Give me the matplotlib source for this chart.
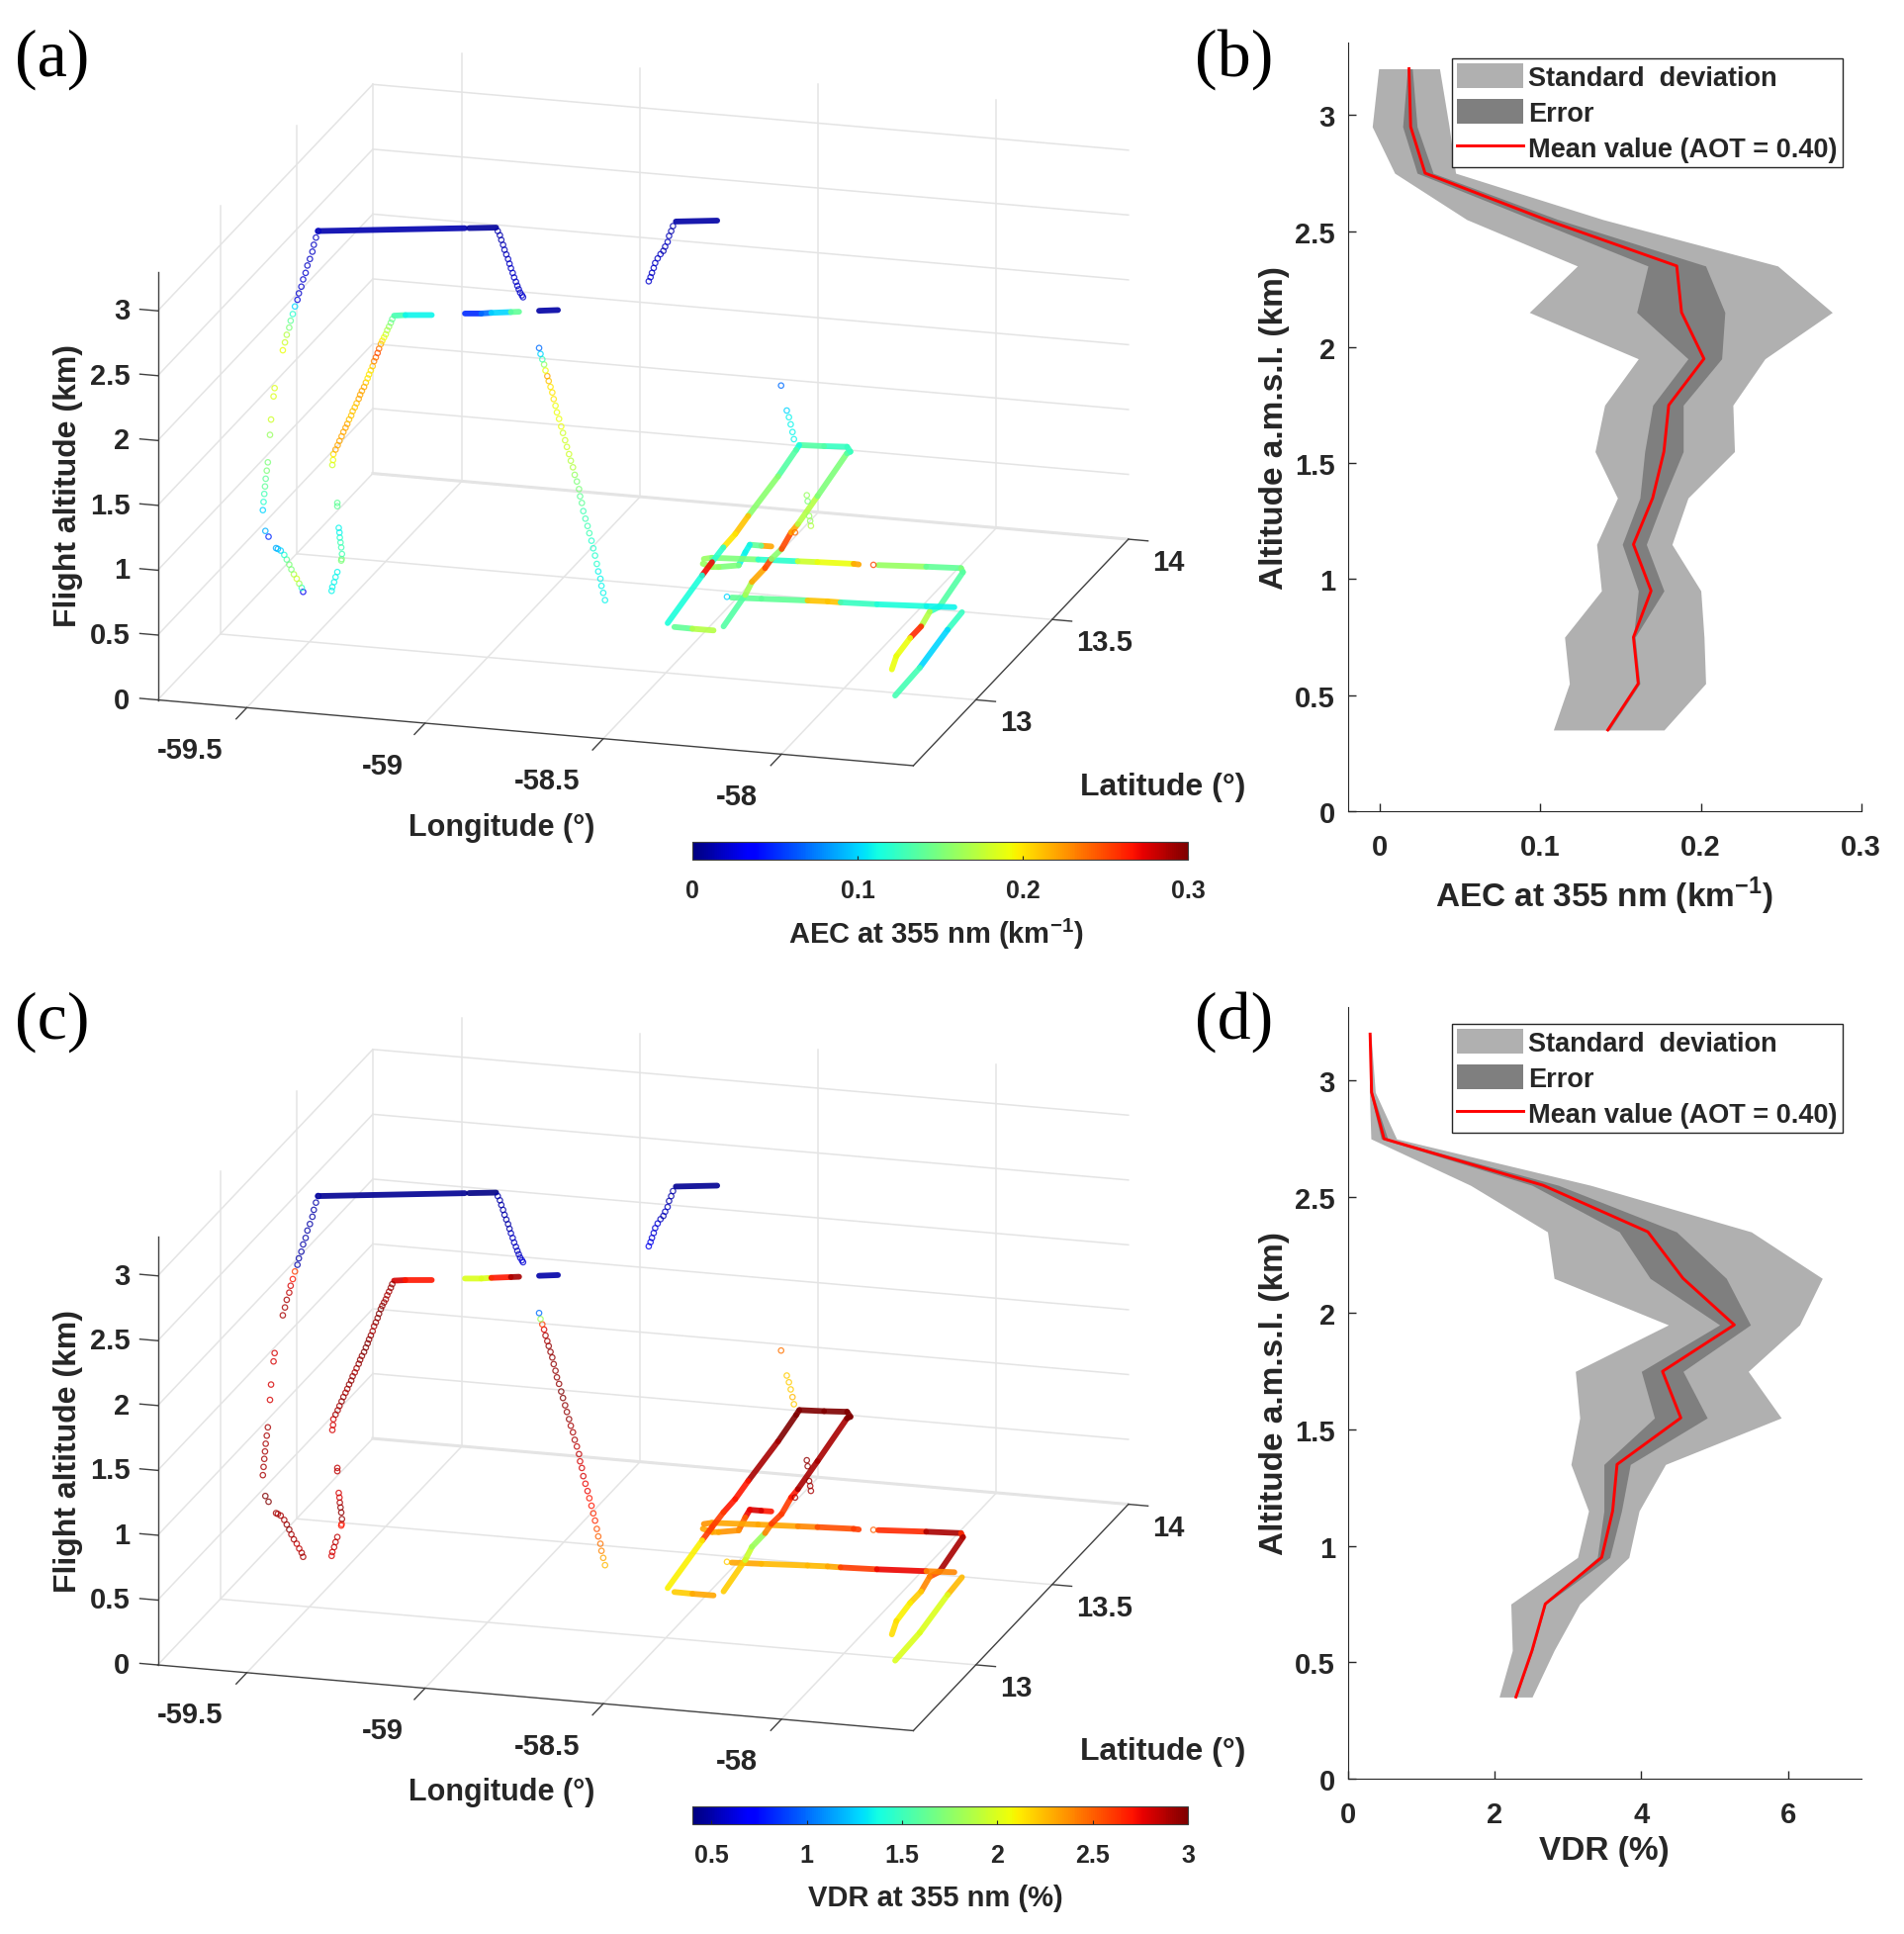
"""
Flight-track curtains of AEC and VDR at 355 nm with their mean vertical profiles.
"""

import matplotlib
matplotlib.use("Agg")
import matplotlib.pyplot as plt
import numpy as np
from matplotlib.cm import ScalarMappable
from matplotlib.colors import Normalize
from matplotlib.lines import Line2D
from matplotlib.patches import Patch
from mpl_toolkits.mplot3d import proj3d

W, H = 1925, 1956
DARK = "#262626"
GRID = "#e4e4e4"

LON_RANGE = (-59.75, -57.63)
LAT_RANGE = (12.59, 14.0)
ALT_RANGE = (0.0, 3.3)
lon_ticks = [-59.5, -59.0, -58.5, -58.0]
lat_ticks = [13.0, 13.5, 14.0]
alt_ticks = [0, 0.5, 1, 1.5, 2, 2.5, 3]
lon_labels = ["-59.5", "-59", "-58.5", "-58"]
lat_labels = ["13", "13.5", "14"]
alt_labels = ["0", "0.5", "1", "1.5", "2", "2.5", "3"]
# the longitude labels do not sit evenly along the axis in the original
lon_label_nudge = [-0.019, 0.019, -0.019, 0.013]

# sparse parts of the track, drawn as separate open circles
leg_a_lat = 12.98
leg_a_lon = [-59.467, -59.473, -59.479, -59.483, -59.490, -59.497, -59.502, -59.509, -59.514, -59.521, -59.525,
             -59.532, -59.538, -59.544, -59.548, -59.555, -59.560, -59.566, -59.589, -59.592, -59.599, -59.602,
             -59.608, -59.611, -59.614, -59.616, -59.618, -59.620, -59.622, -59.615, -59.606, -59.585, -59.580,
             -59.572, -59.562, -59.555, -59.548, -59.542, -59.535, -59.527, -59.520, -59.513, -59.509]
leg_a_alt = [3.20, 3.148, 3.091, 3.037, 2.979, 2.927, 2.869, 2.817, 2.76, 2.707, 2.656,
             2.603, 2.543, 2.49, 2.436, 2.379, 2.319, 2.257, 1.96, 1.895, 1.715, 1.596,
             1.383, 1.318, 1.255, 1.195, 1.137, 1.075, 1.011, 0.852, 0.81, 0.727, 0.722,
             0.711, 0.68, 0.646, 0.609, 0.573, 0.537, 0.505, 0.469, 0.438, 0.408]
leg_a_aec = [0.018, 0.018, 0.018, 0.018, 0.018, 0.018, 0.02, 0.02, 0.02, 0.02, 0.025,
             0.1, 0.12, 0.14, 0.15, 0.17, 0.18, 0.19, 0.185, 0.185, 0.18, 0.16,
             0.15, 0.15, 0.14, 0.14, 0.13, 0.12, 0.1, 0.09, 0.05, 0.09, 0.09,
             0.1, 0.12, 0.14, 0.15, 0.15, 0.17, 0.18, 0.16, 0.12, 0.03]
leg_a_vdr = [0.5, 0.5, 0.5, 0.5, 0.5, 0.5, 0.5, 0.5, 0.5, 0.5, 0.5,
             2.6, 2.7, 2.8, 2.85, 2.9, 2.9, 2.9, 2.8, 2.8, 2.8, 2.8,
             2.9, 2.9, 2.9, 2.9, 2.9, 2.9, 2.9, 3.0, 3.0, 2.9, 2.9,
             2.9, 2.9, 2.95, 2.95, 2.9, 2.9, 2.85, 2.85, 2.9, 2.9]

leg_b_lat = 12.80
leg_b_lon = [-59.182, -59.186, -59.191, -59.196, -59.200, -59.205, -59.210, -59.214, -59.219, -59.223,
             -59.228, -59.233, -59.237, -59.242, -59.247, -59.251, -59.256, -59.261, -59.267, -59.272,
             -59.276, -59.282, -59.287, -59.293, -59.297, -59.303, -59.308, -59.313, -59.319, -59.324,
             -59.330, -59.335, -59.341, -59.347, -59.348, -59.350,
             -59.336, -59.336, -59.332, -59.330, -59.329, -59.327, -59.325, -59.323, -59.324, -59.325,
             -59.336, -59.341, -59.345, -59.350, -59.352]
leg_b_alt = [2.812, 2.783, 2.752, 2.723, 2.691, 2.665, 2.638, 2.612, 2.575, 2.541,
             2.506, 2.475, 2.436, 2.402, 2.37, 2.339, 2.305, 2.27, 2.238, 2.207,
             2.175, 2.139, 2.106, 2.075, 2.041, 2.009, 1.974, 1.943, 1.909, 1.874,
             1.837, 1.803, 1.768, 1.731, 1.686, 1.647,
             1.358, 1.333, 1.166, 1.131, 1.092, 1.055, 1.017, 0.967, 0.928, 0.916,
             0.825, 0.785, 0.745, 0.706, 0.676]
leg_b_aec = [0.14, 0.15, 0.16, 0.17, 0.18, 0.19, 0.2, 0.22, 0.24, 0.25,
             0.24, 0.23, 0.21, 0.2, 0.2, 0.2, 0.21, 0.22, 0.22, 0.22,
             0.22, 0.21, 0.21, 0.21, 0.21, 0.21, 0.22, 0.22, 0.22, 0.22,
             0.22, 0.22, 0.22, 0.2, 0.19, 0.18,
             0.14, 0.14, 0.11, 0.11, 0.12, 0.13, 0.13, 0.13, 0.15, 0.15,
             0.11, 0.11, 0.11, 0.11, 0.11]
leg_b_vdr = [2.95, 2.95, 2.9, 2.9, 2.9, 2.95, 2.95, 3.0, 3.0, 2.95,
             2.95, 2.9, 2.9, 2.95, 2.95, 3.0, 3.0, 3.0, 2.95, 2.95,
             2.95, 2.9, 2.9, 2.95, 2.95, 2.95, 2.9, 2.9, 2.95, 2.95,
             2.9, 2.9, 2.9, 2.8, 2.8, 2.8,
             2.85, 2.85, 2.8, 2.8, 2.9, 2.95, 2.95, 2.95, 2.7, 2.7,
             2.85, 2.85, 2.85, 2.8, 2.8]

leg_c_lat = 13.09
leg_c_lon = [-58.894, -58.890, -58.885, -58.880, -58.876, -58.871, -58.867, -58.862, -58.857, -58.853,
             -58.848, -58.844, -58.838, -58.832, -58.827, -58.821, -58.816, -58.810, -58.805, -58.799,
             -58.794, -58.788, -58.782, -58.779, -58.774, -58.770, -58.764, -58.758, -58.753, -58.747,
             -58.742, -58.737, -58.732, -58.728, -58.722, -58.719, -58.714, -58.709]
leg_c_alt = [2.299, 2.254, 2.214, 2.175, 2.13, 2.088, 2.051, 2.007, 1.965, 1.915,
             1.865, 1.815, 1.766, 1.709, 1.66, 1.605, 1.555, 1.501, 1.451, 1.402,
             1.345, 1.295, 1.238, 1.183, 1.133, 1.071, 1.014, 0.959, 0.905, 0.848,
             0.791, 0.736, 0.673, 0.616, 0.561, 0.507, 0.454, 0.399]
leg_c_aec = [0.07, 0.1, 0.13, 0.16, 0.19, 0.22, 0.21, 0.2, 0.2, 0.2,
             0.19, 0.19, 0.19, 0.19, 0.18, 0.18, 0.18, 0.18, 0.17, 0.17,
             0.16, 0.15, 0.15, 0.14, 0.14, 0.13, 0.13, 0.13, 0.13, 0.12,
             0.12, 0.12, 0.12, 0.11, 0.11, 0.11, 0.11, 0.11]
leg_c_vdr = [1.0, 1.8, 2.6, 2.8, 2.9, 2.9, 2.95, 2.95, 2.95, 2.95,
             2.95, 2.95, 2.95, 3.0, 3.0, 2.95, 2.95, 2.95, 2.9, 2.9,
             2.9, 2.85, 2.85, 2.8, 2.8, 2.8, 2.75, 2.75, 2.7, 2.7,
             2.65, 2.65, 2.55, 2.5, 2.45, 2.4, 2.3, 2.25]

leg_d_lat = 13.09
leg_d_lon = [-59.010, -59.004, -59.000, -58.995, -58.991, -58.986, -58.981, -58.977, -58.973, -58.968,
             -58.964, -58.959, -58.955, -58.951, -58.947, -58.942, -58.939]
leg_d_alt = [3.173, 3.142, 3.107, 3.07, 3.033, 2.998, 2.964, 2.929, 2.895, 2.86,
             2.826, 2.794, 2.764, 2.738, 2.713, 2.694, 2.68]
leg_d_aec = [0.012, 0.012, 0.012, 0.015, 0.015, 0.015, 0.018, 0.018, 0.018, 0.018,
             0.018, 0.018, 0.018, 0.018, 0.02, 0.02, 0.02]
leg_d_vdr = [0.5, 0.5, 0.5, 0.5, 0.5, 0.5, 0.5, 0.5, 0.55, 0.55,
             0.55, 0.55, 0.55, 0.55, 0.6, 0.6, 0.6]

leg_e_lat = 13.199
leg_e_lon = [-58.565, -58.570, -58.576, -58.580, -58.587, -58.592, -58.600, -58.608, -58.615, -58.619,
             -58.624, -58.628, -58.633]
leg_e_alt = [3.183, 3.143, 3.104, 3.057, 3.019, 2.985, 2.958, 2.923, 2.886, 2.847, 2.808, 2.774, 2.741]
leg_e_aec = [0.012, 0.012, 0.015, 0.018, 0.015, 0.012, 0.018, 0.018, 0.018, 0.018, 0.018, 0.02, 0.02]
leg_e_vdr = [0.5, 0.5, 0.5, 0.55, 0.55, 0.5, 0.55, 0.6, 0.6, 0.6, 0.6, 0.65, 0.65]

leg_g_lat = 13.95
leg_g_lon = [-58.583, -58.567, -58.561, -58.556, -58.551, -58.547]
leg_g_alt = [1.019, 0.83, 0.78, 0.726, 0.668, 0.614]
leg_g_aec = [0.07, 0.1, 0.11, 0.11, 0.11, 0.11]
leg_g_vdr = [2.45, 2.2, 2.2, 2.2, 2.25, 2.2]

leg_h_alt = 0.5
leg_h_lon = [-58.412, -58.395, -58.355, -58.340, -58.326, -58.351, -58.068, -58.369]
leg_h_lat = [13.719, 13.685, 13.601, 13.573, 13.545, 13.499, 13.352, 13.095]
leg_h_aec = [0.16, 0.15, 0.16, 0.16, 0.17, 0.24, 0.25, 0.1]
leg_h_vdr = [2.95, 2.95, 2.95, 2.9, 2.9, 2.9, 2.5, 2.2]

# dense parts of the track, where the circles merge into a solid band
top1_lon = [-59.467, -59.094]
top1_lat = [12.98, 13.07]
top1_aec = [0.012, 0.012]
top1_vdr = [0.45, 0.45]
top2_lon = [-59.083, -59.014]
top2_lat = [13.0725, 13.089]
top2_aec = [0.008, 0.008]
top2_vdr = [0.42, 0.42]
top3_lon = [-58.557, -58.452]
top3_lat = [13.199, 13.225]
top3_aec = [0.01, 0.01]
top3_vdr = [0.45, 0.45]
mid1_lon = [-59.177, -59.145, -59.071]
mid1_alt = [2.84, 2.852, 2.87]
mid1_aec = [0.13, 0.11, 0.09]
mid1_vdr = [2.8, 2.7, 2.3]
mid2_lon = [-58.978, -58.932, -58.904, -58.849, -58.826]
mid2_alt = [2.904, 2.915, 2.927, 2.946, 2.954]
mid2_aec = [0.05, 0.07, 0.1, 0.14, 0.1]
mid2_vdr = [2.0, 2.0, 2.7, 2.9, 2.85]
mid3_lon = [-58.770, -58.717]
mid3_alt = [2.975, 2.993]
mid3_aec = [0.01, 0.01]
mid3_vdr = [0.5, 0.5]

loop_lon = [-58.305, -58.326, -58.341, -58.341, -58.347, -58.345, -58.361, -58.364, -58.382, -58.411, -58.406,
            -58.427, -58.488, -58.555, -58.551, -58.533, -58.513, -58.502, -58.500, -58.493, -58.486, -58.458]
loop_lat = [12.923, 13.114, 13.193, 13.279, 13.335, 13.397, 13.497, 13.548, 13.719, 13.980, 13.991,
            14.018, 14.010, 14.004, 13.974, 13.813, 13.571, 13.460, 13.378, 13.287, 13.206, 12.914]
loop_aec = [0.135, 0.165, 0.22, 0.25, 0.155, 0.25, 0.22, 0.17, 0.15, 0.135, 0.125,
            0.125, 0.135, 0.115, 0.135, 0.155, 0.21, 0.2, 0.12, 0.27, 0.115, 0.12]
loop_vdr = [2.2, 1.95, 1.8, 2.4, 2.6, 2.6, 2.7, 2.9, 2.9, 3.0, 3.0,
            3.0, 3.0, 3.0, 3.0, 2.9, 2.7, 2.7, 2.6, 2.6, 2.1, 2.0]
base_lon = [-58.431, -58.380, -58.321]
base_lat = [12.895, 12.894, 12.895]
base_aec = [0.14, 0.17, 0.19]
base_vdr = [2.2, 2.3, 2.1]
run1_lon = [-58.522, -58.504, -58.380, -58.273, -58.220, -58.122, -58.107]
run1_lat = [13.301, 13.312, 13.325, 13.335, 13.340, 13.348, 13.347]
run1_aec = [0.16, 0.15, 0.12, 0.18, 0.19, 0.22, 0.26]
run1_vdr = [2.35, 2.3, 2.3, 2.4, 2.55, 2.6, 2.4]
run2_lon = [-58.055, -57.927, -57.833, -57.818, -57.794, -57.807, -57.793, -57.793, -57.784, -57.763]
run2_lat = [13.353, 13.368, 13.377, 13.355, 13.144, 13.111, 13.022, 12.950, 12.839, 12.760]
run2_aec = [0.16, 0.14, 0.15, 0.135, 0.125, 0.17, 0.26, 0.19, 0.19, 0.13]
run2_vdr = [2.65, 2.9, 2.65, 2.9, 2.55, 2.4, 2.2, 2.1, 2.15, 1.95]
run3_lon = [-58.355, -58.275, -58.151, -58.097, -58.061, -57.962, -57.829, -57.754]
run3_lat = [13.093, 13.101, 13.114, 13.119, 13.120, 13.127, 13.141, 13.149]
run3_aec = [0.14, 0.14, 0.21, 0.21, 0.125, 0.115, 0.11, 0.11]
run3_vdr = [2.3, 2.25, 2.25, 2.3, 2.6, 2.75, 2.4, 2.25]
run4_lon = [-57.722, -57.716, -57.695, -57.690]
run4_lat = [13.124, 13.016, 12.784, 12.611]
run4_aec = [0.125, 0.1, 0.13, 0.12]
run4_vdr = [2.25, 2.0, 2.0, 1.95]
turn_lon = [-58.378, -58.406, -58.438, -58.431, -58.416, -58.464, -58.481, -58.513]
turn_lat = [13.407, 13.406, 13.406, 13.360, 13.282, 13.262, 13.259, 13.273]
turn_aec = [0.22, 0.14, 0.11, 0.11, 0.15, 0.16, 0.16, 0.16]
turn_vdr = [2.7, 2.8, 2.75, 2.5, 2.35, 2.3, 2.3, 2.4]

ring_legs = [
    (leg_a_lon, leg_a_lat, leg_a_alt, leg_a_aec, leg_a_vdr),
    (leg_b_lon, leg_b_lat, leg_b_alt, leg_b_aec, leg_b_vdr),
    (leg_c_lon, leg_c_lat, leg_c_alt, leg_c_aec, leg_c_vdr),
    (leg_d_lon, leg_d_lat, leg_d_alt, leg_d_aec, leg_d_vdr),
    (leg_e_lon, leg_e_lat, leg_e_alt, leg_e_aec, leg_e_vdr),
    (leg_g_lon, leg_g_lat, leg_g_alt, leg_g_aec, leg_g_vdr),
    (leg_h_lon, leg_h_lat, leg_h_alt, leg_h_aec, leg_h_vdr),
]
band_legs = [
    (top1_lon, top1_lat, 3.2, top1_aec, top1_vdr),
    (top2_lon, top2_lat, 3.2, top2_aec, top2_vdr),
    (top3_lon, top3_lat, 3.22, top3_aec, top3_vdr),
    (mid1_lon, 12.80, mid1_alt, mid1_aec, mid1_vdr),
    (mid2_lon, 12.80, mid2_alt, mid2_aec, mid2_vdr),
    (mid3_lon, 12.80, mid3_alt, mid3_aec, mid3_vdr),
    (turn_lon, turn_lat, 0.5, turn_aec, turn_vdr),
    (run1_lon, run1_lat, 0.5, run1_aec, run1_vdr),
    (run2_lon, run2_lat, 0.5, run2_aec, run2_vdr),
    (run3_lon, run3_lat, 0.5, run3_aec, run3_vdr),
    (run4_lon, run4_lat, 0.5, run4_aec, run4_vdr),
    (base_lon, base_lat, 0.5, base_aec, base_vdr),
    (loop_lon, loop_lat, 0.5, loop_aec, loop_vdr),
]

# mean profiles
profile_alt = [3.2, 2.95, 2.75, 2.55, 2.35, 2.15, 1.95, 1.75, 1.55, 1.35, 1.15, 0.95, 0.75, 0.55, 0.35]
aec_mean = [0.018, 0.019, 0.028, 0.103, 0.185, 0.188, 0.202, 0.18, 0.177, 0.17, 0.158, 0.169, 0.158, 0.161, 0.142]
aec_std_low = [-0.001, -0.005, 0.009, 0.054, 0.123, 0.093, 0.161, 0.14, 0.134, 0.148, 0.135, 0.138, 0.115, 0.118, 0.108]
aec_std_high = [0.037, 0.043, 0.047, 0.139, 0.248, 0.282, 0.24, 0.22, 0.221, 0.192, 0.182, 0.2, 0.202, 0.203, 0.177]
aec_err_low = [0.017, 0.014, 0.023, 0.095, 0.167, 0.16, 0.192, 0.17, 0.165, 0.162, 0.151, 0.161, 0.158, 0.16, 0.142]
aec_err_high = [0.02, 0.023, 0.033, 0.111, 0.203, 0.215, 0.213, 0.189, 0.189, 0.177, 0.166, 0.177, 0.159, 0.162, 0.143]
vdr_mean = [0.3, 0.32, 0.49, 2.66, 4.09, 4.57, 5.27, 4.29, 4.54, 3.67, 3.61, 3.46, 2.69, 2.51, 2.29]
vdr_std_low = [0.29, 0.29, 0.31, 1.67, 2.72, 2.81, 4.37, 3.1, 3.16, 3.04, 3.28, 3.13, 2.22, 2.24, 2.06]
vdr_std_high = [0.31, 0.37, 0.66, 3.31, 5.5, 6.47, 6.16, 5.46, 5.91, 4.33, 3.97, 3.83, 3.16, 2.81, 2.51]
vdr_err_low = [0.29, 0.3, 0.45, 2.51, 3.7, 4.12, 5.07, 4.0, 4.18, 3.49, 3.49, 3.4, 2.69, 2.51, 2.29]
vdr_err_high = [0.3, 0.33, 0.54, 2.87, 4.48, 5.16, 5.49, 4.57, 4.9, 3.85, 3.73, 3.57, 2.7, 2.52, 2.3]

plt.rcParams["font.family"] = ["Liberation Sans", "DejaVu Sans"]
plt.rcParams["font.weight"] = "bold"
plt.rcParams["axes.labelweight"] = "bold"
plt.rcParams["mathtext.fontset"] = "custom"
plt.rcParams["mathtext.bf"] = "Liberation Sans:bold"
plt.rcParams["text.color"] = DARK
plt.rcParams["axes.labelcolor"] = DARK

fig = plt.figure(figsize=(W / 100, H / 100), dpi=100)


def box(x0, y0, x1, y1):
    """Axes rectangle from pixel corners, y counted from the top."""
    return [x0 / W, 1 - y1 / H, (x1 - x0) / W, (y1 - y0) / H]


def put_text(x, y, text, **kwargs):
    kwargs.setdefault("ha", "center")
    kwargs.setdefault("va", "center")
    fig.text(x / W, 1 - y / H, text, **kwargs)


def to_px(ax, lon, lat, alt):
    """Display position of a point of the 3D axes, y counted from the bottom."""
    x, y, _ = proj3d.proj_transform(lon, lat, alt, ax.get_proj())
    return ax.transData.transform((float(x), float(y)))


def label_3d(ax, lon, lat, alt, text, **kwargs):
    # placed as figure text so that it lines up with the projected axes
    x, y = to_px(ax, lon, lat, alt)
    fig.text(x / W, y / H, text, fontsize=21, va="center", color=DARK, **kwargs)


def place_box(ax, front_px, right_px):
    """Scale and shift the 3D axes so two floor corners land on given pixels."""
    ax.apply_aspect()
    front = to_px(ax, LON_RANGE[0], LAT_RANGE[0], ALT_RANGE[0])
    right = to_px(ax, LON_RANGE[1], LAT_RANGE[0], ALT_RANGE[0])
    target = np.array([front_px[0], H - front_px[1]], dtype=float)
    target_right = np.array([right_px[0], H - right_px[1]], dtype=float)
    bbox = ax.bbox
    scale = np.linalg.norm(target_right - target) / np.linalg.norm(right - front)
    size = bbox.width * scale
    x0, y0 = target - (front - [bbox.x0, bbox.y0]) * scale
    ax.set_position([x0 / W, y0 / H, size / W, size / H])
    ax.apply_aspect()


def draw_tracks(value_index, vmin, vmax, dy, bar_ticks, bar_labels, bar_title):
    norm = Normalize(vmin, vmax)
    cmap = plt.get_cmap("jet")

    ax = fig.add_axes(box(100, 100 + dy, 800, 800 + dy), projection="3d")
    ax.set_proj_type("ortho")
    ax.view_init(elev=17.62, azim=-73.96)
    ax.set_box_aspect((795, 787, 454))
    ax.set_xlim(*LON_RANGE)
    ax.set_ylim(*LAT_RANGE)
    ax.set_zlim(*ALT_RANGE)
    ax.set_axis_off()
    ax.set_facecolor("none")
    ax.computed_zorder = False
    place_box(ax, (159.5, 708.5 + dy), (923.4, 775 + dy))

    lon0, lon1 = LON_RANGE
    lat0, lat1 = LAT_RANGE
    top = ALT_RANGE[1]
    grid = dict(color=GRID, lw=1.1, zorder=1)
    for lon in lon_ticks:
        ax.plot([lon, lon], [lat0, lat1], [0, 0], **grid)
        ax.plot([lon, lon], [lat1, lat1], [0, top], **grid)
    for lat in lat_ticks:
        ax.plot([lon0, lon1], [lat, lat], [0, 0], **grid)
        ax.plot([lon0, lon0], [lat, lat], [0, top if lat < lat1 else alt_ticks[-1]], **grid)
    for alt in alt_ticks:
        ax.plot([lon0, lon1], [lat1, lat1], [alt, alt], **grid)
        ax.plot([lon0, lon0], [lat0, lat1], [alt, alt], **grid)
    ax.plot([lon0, lon1], [lat1, lat1], [0, 0], color=GRID, lw=2.2, zorder=1)

    axis = dict(color="#404040", lw=1.0, zorder=2)
    ax.plot([lon0, lon1], [lat0, lat0], [0, 0], **axis)
    ax.plot([lon1, lon1], [lat0, lat1], [0, 0], **axis)
    ax.plot([lon0, lon0], [lat0, lat0], [0, top], **axis)
    for lon, label, nudge in zip(lon_ticks, lon_labels, lon_label_nudge):
        ax.plot([lon, lon], [lat0, lat0 - 0.07], [0, 0], **axis)
        label_3d(ax, lon - 0.024 + nudge, lat0 - 0.267 + 0.19 * nudge, 0, label, ha="center")
    for lat, label in zip(lat_ticks, lat_labels):
        ax.plot([lon1, lon1 + 0.055], [lat, lat], [0, 0], **axis)
        label_3d(ax, lon1 + 0.119, lat - 0.119, 0, label, ha="left")
    for alt, label in zip(alt_ticks, alt_labels):
        ax.plot([lon0, lon0 - 0.05], [lat0, lat0], [alt, alt], **axis)
        label_3d(ax, lon0 - 0.072, lat0 - 0.014, alt, label, ha="right")

    for leg in band_legs:
        lon = np.asarray(leg[0], dtype=float)
        lat = np.broadcast_to(leg[1], lon.shape)
        alt = np.broadcast_to(leg[2], lon.shape)
        values = leg[value_index]
        for i in range(len(lon) - 1):
            ax.plot(lon[i:i + 2], lat[i:i + 2], alt[i:i + 2], color=cmap(norm(values[i])), alpha=0.9,
                    lw=4.2, solid_capstyle="round", zorder=3)
    for leg in ring_legs:
        lon = np.asarray(leg[0], dtype=float)
        lat = np.broadcast_to(leg[1], lon.shape)
        alt = np.broadcast_to(leg[2], lon.shape)
        ax.scatter(lon, lat, alt, s=15, facecolors="none", edgecolors=cmap(norm(leg[value_index])),
                   linewidths=0.9, alpha=0.8, depthshade=False, zorder=4)

    put_text(69, 491 + dy, "Flight altitude (km)", fontsize=23, rotation=90)
    put_text(507, 837 + dy, "Longitude (°)", fontsize=22)
    put_text(1176, 796 + dy, "Latitude (°)", fontsize=23)

    cax = fig.add_axes(box(700, 851.5 + dy, 1201, 869.5 + dy))
    bar = fig.colorbar(ScalarMappable(norm=norm, cmap=cmap), cax=cax, orientation="horizontal")
    bar.set_ticks(bar_ticks)
    bar.set_ticklabels(bar_labels)
    cax.tick_params(labelsize=18, direction="in", length=3, width=0.8, pad=14, colors=DARK)
    bar.outline.set_edgecolor("#404040")
    bar.outline.set_linewidth(0.8)
    put_text(946, 944 + dy, bar_title, fontsize=21)


def draw_profile(rect, mean, std_low, std_high, err_low, err_high, xlim, xticks, xticklabels, xlabel, xpad):
    ax = fig.add_axes(rect)
    ax.fill_betweenx(profile_alt, std_low, std_high, color="#b0b0b0", lw=0)
    ax.fill_betweenx(profile_alt, err_low, err_high, color="#7f7f7f", lw=0)
    ax.plot(mean, profile_alt, color="red", lw=2.1)
    ax.set_xlim(*xlim)
    ax.set_ylim(0, 3.315)
    ax.set_xticks(xticks)
    ax.set_xticklabels(xticklabels)
    ax.set_yticks(alt_ticks)
    ax.set_yticklabels(alt_labels)
    ax.tick_params(direction="in", length=6, width=1, labelsize=21, colors=DARK)
    ax.tick_params(axis="x", pad=16)
    ax.tick_params(axis="y", pad=9.5)
    ax.spines["top"].set_visible(False)
    ax.spines["right"].set_visible(False)
    ax.spines["left"].set_color(DARK)
    ax.spines["bottom"].set_color(DARK)
    ax.set_xlabel(xlabel, fontsize=24, labelpad=xpad)
    ax.set_ylabel("Altitude a.m.s.l. (km)", fontsize=24, labelpad=4)
    handles = [
        Patch(facecolor="#b0b0b0", label="Standard  deviation"),
        Patch(facecolor="#7f7f7f", label="Error"),
        Line2D([], [], color="red", lw=2.1, label="Mean value (AOT = 0.40)"),
    ]
    legend = ax.legend(handles=handles, loc="upper right", bbox_to_anchor=(0.964, 0.979), fontsize=19.5,
                       frameon=True, fancybox=False, framealpha=1, edgecolor=DARK, borderpad=0.2,
                       handlelength=2.45, handleheight=1.05, handletextpad=0.2, labelspacing=0.3,
                       borderaxespad=0)
    legend.get_frame().set_linewidth(1)


AEC_TITLE = r"AEC at 355 nm (km$^{\mathbf{-1}}$)"
draw_tracks(3, 0.0, 0.3, 0, [0, 0.1, 0.2, 0.3], ["0", "0.1", "0.2", "0.3"], AEC_TITLE)
draw_tracks(4, 0.4, 3.0, 975.5, [0.5, 1, 1.5, 2, 2.5, 3], ["0.5", "1", "1.5", "2", "2.5", "3"], "VDR at 355 nm (%)")

draw_profile(box(1363, 43.5, 1881.6, 821), aec_mean, aec_std_low, aec_std_high, aec_err_low, aec_err_high,
             (-0.02, 0.3), [0, 0.1, 0.2, 0.3], ["0", "0.1", "0.2", "0.3"], AEC_TITLE, 10)
draw_profile(box(1363, 1019.3, 1881.6, 1798.7), vdr_mean, vdr_std_low, vdr_std_high, vdr_err_low, vdr_err_high,
             (0, 7), [0, 2, 4, 6], ["0", "2", "4", "6"], "VDR (%)", 5)

for x, y, letter in [(53, 60, "(a)"), (1248, 60, "(b)"), (53, 1033, "(c)"), (1248, 1033, "(d)")]:
    put_text(x, y, letter, fontsize=49, fontweight="normal", family="Liberation Serif", color="black")

fig.savefig("out.png", dpi=100)
